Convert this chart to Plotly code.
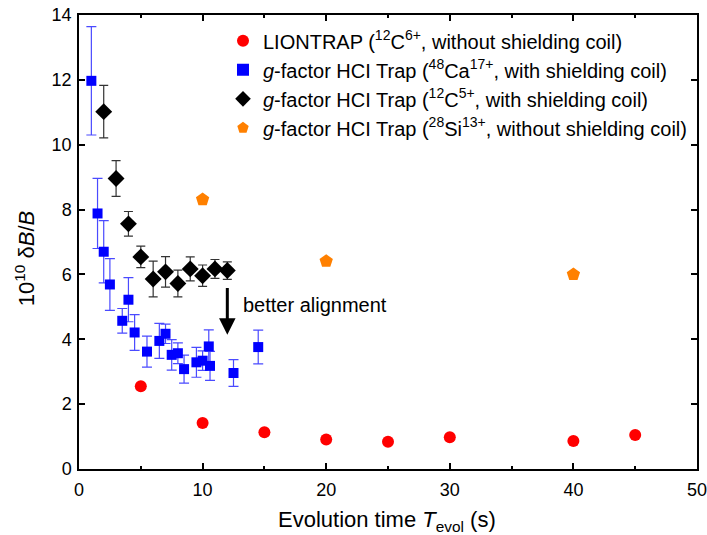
import plotly.graph_objects as go

# LIONTRAP (12C6+, without shielding coil)
lion_x = [5, 10, 15, 20, 25, 30, 40, 45]
lion_y = [2.55, 1.42, 1.13, 0.91, 0.84, 0.98, 0.86, 1.05]

# g-factor HCI Trap (48Ca17+, with shielding coil)
ca_x = [1, 1.5, 2, 2.5, 3.5, 4, 4.5, 5.5, 6.5, 7, 7.5, 8, 8.5, 9.5, 10, 10.5, 10.6, 12.5, 14.5]
ca_y = [11.97, 7.88, 6.70, 5.69, 4.57, 5.22, 4.21, 3.62, 3.95, 4.17, 3.52, 3.57, 3.08, 3.29, 3.34, 3.78, 3.18, 2.96, 3.76]
ca_err = [1.67, 1.08, 0.96, 0.80, 0.38, 0.68, 0.55, 0.48, 0.54, 0.30, 0.47, 0.32, 0.43, 0.46, 0.30, 0.51, 0.45, 0.41, 0.52]

# g-factor HCI Trap (12C5+, with shielding coil)
c5_x = [2, 3, 4, 5, 6, 7, 8, 9, 10, 11, 12]
c5_y = [11.02, 8.96, 7.56, 6.54, 5.86, 6.08, 5.72, 6.17, 5.96, 6.17, 6.12]
c5_err = [0.81, 0.55, 0.38, 0.33, 0.55, 0.47, 0.41, 0.37, 0.33, 0.29, 0.27]

# g-factor HCI Trap (28Si13+, without shielding coil)
si_x = [10, 20, 40]
si_y = [8.31, 6.41, 6.0]

FONT = "Arial, Liberation Sans, sans-serif"

fig = go.Figure()
fig.add_trace(go.Scatter(
    x=lion_x, y=lion_y, mode="markers", legendgroup="a",
    name="LIONTRAP (<sup>12</sup>C<sup>6+</sup>, without shielding coil)",
    marker=dict(symbol="circle", size=12, color="#ff0000"),
))
fig.add_trace(go.Scatter(
    x=ca_x, y=ca_y, mode="markers", legendgroup="b",
    name="<i>g</i>-factor HCI Trap (<sup>48</sup>Ca<sup>17+</sup>, with shielding coil)",
    marker=dict(symbol="square", size=10, color="#0000ff"),
    error_y=dict(type="data", array=ca_err, color="#4a4aff", thickness=1.2, width=5),
))
fig.add_trace(go.Scatter(
    x=c5_x, y=c5_y, mode="markers", legendgroup="c",
    name="<i>g</i>-factor HCI Trap (<sup>12</sup>C<sup>5+</sup>, with shielding coil)",
    marker=dict(symbol="diamond", size=13, color="#000000"),
    error_y=dict(type="data", array=c5_err, color="#333333", thickness=1.2, width=4.5),
))
fig.add_trace(go.Scatter(
    x=si_x, y=si_y, mode="markers", legendgroup="d",
    name="<i>g</i>-factor HCI Trap (<sup>28</sup>Si<sup>13+</sup>, without shielding coil)",
    marker=dict(symbol="pentagon", size=14, color="#ff8000"),
))

fig.add_annotation(x=12, y=4.14, ax=12, ay=5.63, xref="x", yref="y", axref="x", ayref="y",
                   text="", showarrow=True, arrowhead=2, arrowsize=1.1, arrowwidth=3, arrowcolor="black")
fig.add_annotation(x=13.1, y=5.07, xref="x", yref="y", text="better alignment", showarrow=False,
                   xanchor="left", yanchor="middle", font=dict(family=FONT, size=20, color="black"))

# axis titles as annotations for precise placement
fig.add_annotation(x=0.499, y=-0.115, xref="paper", yref="paper",
                   text="Evolution time <i>T</i><sub>evol</sub> (s)", showarrow=False,
                   xanchor="center", yanchor="middle", font=dict(family=FONT, size=22, color="black"))
fig.add_annotation(x=-0.087, y=0.4626, xref="paper", yref="paper", textangle=-90,
                   text="10<sup>10</sup> δ<i>B</i>/<i>B</i>", showarrow=False,
                   xanchor="center", yanchor="middle", font=dict(family=FONT, size=22, color="black"))

axis_common = dict(showline=True, linecolor="black", linewidth=1.5, mirror="allticks",
                   ticks="inside", tickcolor="black", tickwidth=1.5, ticklen=6,
                   showgrid=False, zeroline=False, automargin=False, ticklabeloverflow="allow",
                   tickfont=dict(family=FONT, size=18, color="black"))

fig.update_xaxes(range=[0, 50], dtick=10, tick0=0, ticklabelstandoff=4,
                 minor=dict(dtick=5, ticks="inside", ticklen=3, tickcolor="black", tickwidth=1.5),
                 **axis_common)
fig.update_yaxes(range=[0, 14], dtick=2, tick0=0, ticklabelstandoff=2,
                 **axis_common)

fig.update_layout(
    width=707, height=535,
    margin=dict(l=79, r=10, t=15, b=66),
    plot_bgcolor="white", paper_bgcolor="white",
    font=dict(family=FONT, color="black"),
    showlegend=True,
    legend=dict(x=0.233, y=0.986, xanchor="left", yanchor="top", bgcolor="rgba(0,0,0,0)",
                itemsizing="constant", traceorder="normal",
                font=dict(family=FONT, size=20, color="black"), tracegroupgap=2),
)

fig.write_html("out.html", config={"displayModeBar": False},
               post_script="document.body.style.margin='0';")
